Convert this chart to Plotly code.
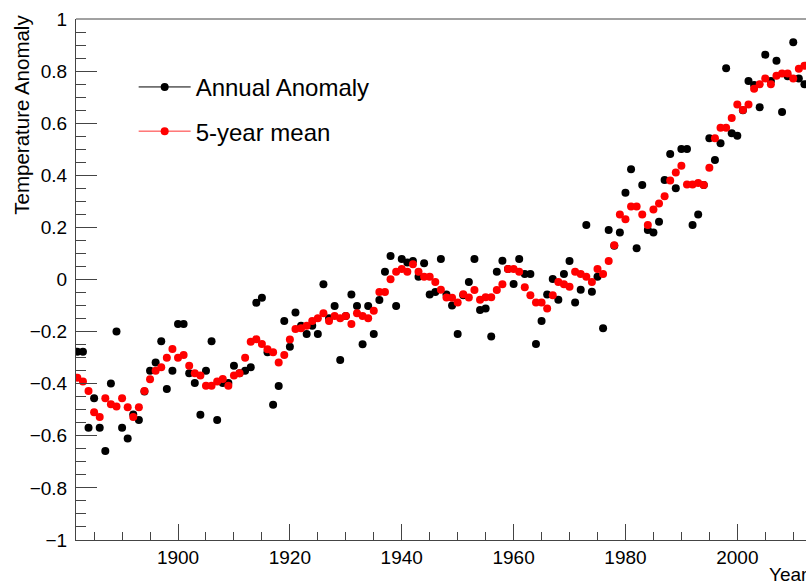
import plotly.graph_objects as go

# Global temperature anomaly, yearly values and their 5-year running mean
years = list(range(1882, 2013))

annual = [
    -0.277, -0.277, -0.569, -0.456, -0.569, -0.658, -0.399, -0.200,  # 1882-1889
    -0.569, -0.610, -0.518, -0.539, -0.430, -0.350, -0.319, -0.237, -0.420, -0.350,  # 1890-1899
    -0.171, -0.171, -0.360, -0.397, -0.519, -0.350, -0.237, -0.539, -0.397, -0.397,  # 1900-1909
    -0.331, -0.360, -0.350, -0.337, -0.089, -0.070, -0.279, -0.481, -0.409, -0.159,  # 1910-1919
    -0.258, -0.127, -0.178, -0.209, -0.178, -0.209, -0.018, -0.149, -0.102, -0.309,  # 1920-1929
    -0.140, -0.058, -0.102, -0.249, -0.102, -0.209, -0.079, 0.030, 0.090, -0.102,    # 1930-1939
    0.079, 0.065, 0.071, 0.011, 0.062, -0.058, -0.048, 0.079, -0.058, -0.100,        # 1940-1949
    -0.209, -0.060, -0.010, 0.079, -0.117, -0.111, -0.219, 0.030, 0.072, 0.040,      # 1950-1959
    -0.017, 0.079, 0.021, 0.021, -0.248, -0.159, -0.058, 0.002, -0.078, 0.021,       # 1960-1969
    0.071, -0.088, -0.039, 0.209, -0.047, 0.011, -0.187, 0.190, 0.130, 0.180,        # 1970-1979
    0.333, 0.423, 0.120, 0.363, 0.190, 0.180, 0.222, 0.382, 0.482, 0.350,            # 1980-1989
    0.501, 0.501, 0.209, 0.250, 0.363, 0.542, 0.459, 0.523, 0.811, 0.561,            # 1990-1999
    0.552, 0.650, 0.762, 0.747, 0.661, 0.863, 0.762, 0.840, 0.643, 0.780,            # 2000-2009
    0.911, 0.772, 0.750,                                                             # 2010-2012
]

mean5 = [
    -0.377, -0.392, -0.428, -0.510, -0.528, -0.456, -0.479, -0.488,                  # 1882-1889
    -0.456, -0.490, -0.528, -0.490, -0.428, -0.383, -0.350, -0.337, -0.300, -0.267,  # 1890-1899
    -0.300, -0.290, -0.331, -0.360, -0.369, -0.408, -0.408, -0.392, -0.382, -0.408,  # 1900-1909
    -0.369, -0.360, -0.300, -0.239, -0.229, -0.248, -0.268, -0.279, -0.319, -0.290,  # 1910-1919
    -0.230, -0.190, -0.187, -0.178, -0.159, -0.149, -0.130, -0.159, -0.140, -0.149,  # 1920-1929
    -0.140, -0.171, -0.130, -0.140, -0.149, -0.120, -0.048, -0.048, 0.001, 0.030,    # 1930-1939
    0.040, 0.030, 0.059, 0.030, 0.011, 0.011, -0.010, -0.039, -0.069, -0.070,        # 1940-1949
    -0.088, -0.057, -0.069, -0.040, -0.078, -0.068, -0.068, -0.040, -0.018, 0.040,   # 1950-1959
    0.040, 0.030, -0.030, -0.060, -0.088, -0.088, -0.111, -0.060, -0.010, -0.018,    # 1960-1969
    -0.028, 0.030, 0.021, 0.011, -0.010, 0.040, 0.021, 0.071, 0.131, 0.250,          # 1970-1979
    0.231, 0.280, 0.280, 0.250, 0.209, 0.269, 0.292, 0.320, 0.380, 0.411,            # 1980-1989
    0.437, 0.365, 0.365, 0.370, 0.363, 0.429, 0.542, 0.583, 0.583, 0.620,            # 1990-1999
    0.672, 0.651, 0.672, 0.732, 0.750, 0.772, 0.750, 0.782, 0.791, 0.791,            # 2000-2009
    0.772, 0.809, 0.821,                                                             # 2010-2012
]

FONT = "Liberation Sans, Arial, Helvetica, sans-serif"
AXIS_COLOR = "#444444"

fig = go.Figure()

# data points (red mean drawn over the black yearly values)
fig.add_trace(go.Scatter(
    x=years, y=annual, mode="markers", showlegend=False,
    marker=dict(color="black", size=8),
))
fig.add_trace(go.Scatter(
    x=years, y=mean5, mode="markers", showlegend=False,
    marker=dict(color="red", size=8),
))

# legend entries shown as line + point
fig.add_trace(go.Scatter(
    x=[None], y=[None], mode="lines+markers", name="Annual Anomaly",
    legendgroup="a", line=dict(color="black", width=1),
    marker=dict(color="black", size=8),
))
fig.add_trace(go.Scatter(
    x=[None], y=[None], mode="lines+markers", name="5-year mean",
    legendgroup="b", line=dict(color="#ff3030", width=1),
    marker=dict(color="red", size=8),
))

fig.update_layout(
    width=806, height=585,
    margin=dict(l=76, r=0, t=19, b=45),
    paper_bgcolor="white", plot_bgcolor="white",
    font=dict(family=FONT, color="black", size=19),
    showlegend=True,
    legend=dict(
        x=0.079, y=0.912, xanchor="left", yanchor="top",
        bgcolor="rgba(0,0,0,0)", font=dict(size=24, family=FONT),
        tracegroupgap=10, itemwidth=52,
    ),
    xaxis=dict(
        range=[1881.76, 2012.28],
        showgrid=False, zeroline=False,
        showline=True, linecolor=AXIS_COLOR, linewidth=1,
        ticks="inside", ticklen=16, tickcolor=AXIS_COLOR, tickwidth=1,
        tick0=1900, dtick=20,
        minor=dict(ticks="inside", ticklen=8, dtick=5, tick0=1900,
                   tickcolor=AXIS_COLOR, showgrid=False),
        tickfont=dict(size=19, family=FONT),
    ),
    yaxis=dict(
        range=[-1, 1],
        showgrid=False, zeroline=False,
        showline=True, linecolor=AXIS_COLOR, linewidth=1,
        ticks="inside", ticklen=21, tickcolor=AXIS_COLOR, tickwidth=1,
        tick0=0, dtick=0.2,
        minor=dict(ticks="inside", ticklen=10, dtick=0.05,
                   tickcolor=AXIS_COLOR, showgrid=False),
        tickfont=dict(size=19, family=FONT),
        ticklabelstandoff=4,
    ),
)

# top frame edge
fig.add_shape(type="line", xref="paper", yref="paper",
              x0=0, x1=1, y0=1, y1=1,
              line=dict(color=AXIS_COLOR, width=1))

# axis titles placed at the far ends of the axes
fig.add_annotation(
    text="Temperature Anomaly", xref="paper", yref="paper",
    x=-0.074, y=1.012, xanchor="center", yanchor="top",
    textangle=-90, showarrow=False, font=dict(size=20.5, family=FONT),
)
fig.add_annotation(
    text="Year", xref="paper", yref="paper",
    x=0.946, y=-0.067, xanchor="left", yanchor="middle",
    showarrow=False, font=dict(size=19, family=FONT),
)

fig.write_html("out.html")
